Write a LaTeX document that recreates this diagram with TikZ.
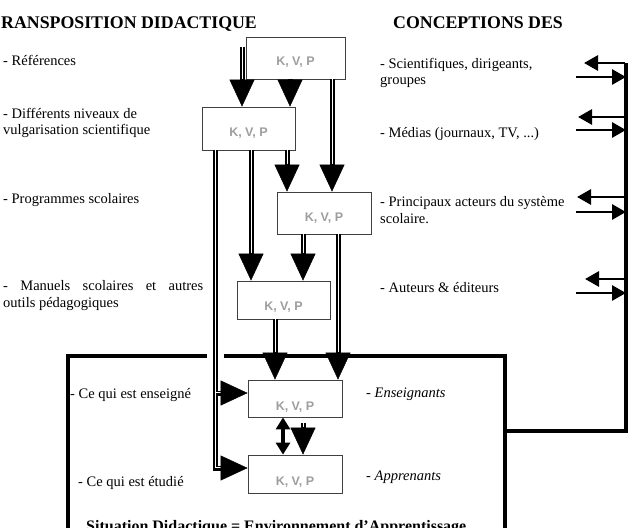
\documentclass[tikz,border=0pt]{standalone}
\usepackage{fontspec}
\setmainfont{Liberation Serif}
\newfontfamily\kvpfam{Liberation Sans}
\usetikzlibrary{arrows.meta,calc}
\newcommand\bigarrow[2]{%
  \draw[shaftblack] (#1) -- ($(#2)!22pt!(#1)$);
  \draw[shaftslit, transform canvas={xshift=0.9pt}] (#1) -- ($(#2)!22pt!(#1)$);
  \draw[bighead] ($(#2)!28pt!(#1)$) -- (#2);}
\begin{document}
\begin{tikzpicture}[x=1pt,y=-1pt,
  kvp/.style={draw=black!75, line width=0.8pt, fill=white, inner sep=0pt},
  kvplab/.style={font=\kvpfam\bfseries\fontsize{12.5}{14}\selectfont, text=black!38, inner sep=0pt},
  shaftblack/.style={draw=black, line width=5pt},
  shaftslit/.style={draw=white, line width=1.1pt},
  bighead/.style={draw=black, line width=0.4pt, -{Triangle[width=25pt,length=27pt]}},
  sarrow/.style={line width=2.8pt, -{Triangle[width=15pt,length=14pt]}},
  frameline/.style={line width=4pt, line join=miter},
  txt/.style={anchor=base west, inner sep=0pt, font=\fontsize{14.5}{17}\selectfont},
  ttl/.style={anchor=base west, inner sep=0pt, font=\bfseries\fontsize{17.8}{20}\selectfont}]
\useasboundingbox (0,0) rectangle (639,527);

% x positions of vertical connectors
\coordinate (c215) at (215,0);
\coordinate (c242) at (242,0);
\coordinate (c251) at (251,0);
\coordinate (c275) at (275,0);
\coordinate (c283) at (283,0);
\coordinate (c287) at (287,0);
\coordinate (c290) at (290,0);
\coordinate (c303) at (303,0);
\coordinate (c332) at (332,0);
\coordinate (c338) at (338,0);
\coordinate (y393) at (0,393);
\coordinate (y468) at (0,468);

% frame
\coordinate (FBL) at (68,545);
\coordinate (FTL) at (68,356);
\coordinate (FTR) at (505,356);
\coordinate (FBR) at (505,545);
\draw[frameline] (FBL) -- (FTL) -- (FTR) -- (FBR);
\coordinate (J) at (505,431);
\coordinate (RT) at (626,63);
\draw[frameline] (J) -| (RT);

% boxes
\node[kvp, minimum width=99pt, minimum height=42pt, label={[kvplab, yshift=-4pt]center:K, V, P}] (B1) at (295.5,58) {};
\node[kvp, minimum width=93pt, minimum height=43pt, label={[kvplab, yshift=-4.5pt]center:K, V, P}] (B2) at (248.5,128.5) {};
\node[kvp, minimum width=94pt, minimum height=42pt, label={[kvplab, yshift=-5pt]center:K, V, P}] (B3) at (324,213) {};
\node[kvp, minimum width=93pt, minimum height=38pt, label={[kvplab, yshift=-7pt]center:K, V, P}] (B4) at (283.5,300) {};
\node[kvp, minimum width=94pt, minimum height=37pt, label={[kvplab, yshift=-9pt]center:K, V, P}] (B5) at (295,398.5) {};
\node[kvp, minimum width=94pt, minimum height=38pt, label={[kvplab, yshift=-8pt]center:K, V, P}] (B6) at (295,474) {};

% arrows
\coordinate (A1s) at (242,47);
\bigarrow{A1s}{B2.north -| c242}
\bigarrow{B1.south -| c290}{B2.north -| c290}
\bigarrow{B1.south -| c332}{B3.north -| c332}
\bigarrow{B2.south -| c287}{B3.north -| c287}
\bigarrow{B2.south -| c251}{B4.north -| c251}
\bigarrow{B3.south -| c303}{B4.north -| c303}
\bigarrow{B3.south -| c338}{B5.north -| c338}
\bigarrow{B4.south -| c275}{B5.north -| c275}
\coordinate (A11s) at (303,423);
\bigarrow{A11s}{B6.north -| c303}

% long left connector
\coordinate (H1) at (215,338);
\coordinate (H2) at (215,374);
\draw[white, line width=17pt] (H1) -- (H2);
\coordinate (K1) at (215,393);
\coordinate (K2) at (215,468);
\draw[shaftblack, line join=miter] (B2.south -| c215) -- (K2) -- ($(B6.west |- y468)+(-22pt,0)$);
\draw[shaftblack] (K1) -- ($(B5.west |- y393)+(-22pt,0)$);
\draw[shaftslit, transform canvas={xshift=0.9pt,yshift=0.9pt}] (B2.south -| c215) -- (K2) -- ($(B6.west |- y468)+(-22pt,0)$);
\draw[shaftslit, transform canvas={xshift=0.9pt,yshift=0.9pt}] (K1) -- ($(B5.west |- y393)+(-22pt,0)$);
\draw[bighead] ($(B5.west |- y393)+(-28pt,0)$) -- (B5.west |- y393);
\draw[bighead] ($(B6.west |- y468)+(-28pt,0)$) -- (B6.west |- y468);

% double-headed arrow
\draw[line width=4.5pt, {Triangle[width=14pt,length=12pt]}-{Triangle[width=14pt,length=12pt]}] (B5.south -| c283) -- (B6.north -| c283);

% right side arrows
\coordinate (P1a) at (625,63);  \coordinate (P1b) at (584,63);
\coordinate (Q1a) at (576,77);  \coordinate (Q1b) at (626,77);
\coordinate (P2a) at (625,117); \coordinate (P2b) at (578,117);
\coordinate (Q2a) at (576,130); \coordinate (Q2b) at (626,130);
\coordinate (P3a) at (625,197); \coordinate (P3b) at (577,197);
\coordinate (Q3a) at (576,212); \coordinate (Q3b) at (626,212);
\coordinate (P4a) at (625,279); \coordinate (P4b) at (585,279);
\coordinate (Q4a) at (576,293); \coordinate (Q4b) at (626,293);
\draw[sarrow] (P1a) -- (P1b);
\draw[sarrow] (Q1a) -- (Q1b);
\draw[sarrow] (P2a) -- (P2b);
\draw[sarrow] (Q2a) -- (Q2b);
\draw[sarrow] (P3a) -- (P3b);
\draw[sarrow] (Q3a) -- (Q3b);
\draw[sarrow] (P4a) -- (P4b);
\draw[sarrow] (Q4a) -- (Q4b);

% titles
\node[ttl] (T1) at (1,29) {RANSPOSITION DIDACTIQUE};
\node[ttl] (T2) at (393,29) {CONCEPTIONS DES};

% left texts
\node[txt] (L1) at (3,66) {- Références};
\node[txt] (L2a) at (3,118) {- Différents niveaux de};
\node[txt] (L2b) at (3,134) {vulgarisation scientifique};
\node[txt] (L3) at (3,203) {- Programmes scolaires};
\node[txt] (L4a) at (3,290) {\makebox[200pt][s]{- Manuels scolaires et autres}};
\node[txt] (L4b) at (3,307) {outils pédagogiques};
\node[txt] (L5) at (70,398) {- Ce qui est enseigné};
\node[txt] (L6) at (78,486) {- Ce qui est étudié};
\node[txt, font=\itshape\fontsize{14.5}{17}\selectfont] (L8) at (366,397) {- Enseignants};
\node[txt, font=\itshape\fontsize{14.5}{17}\selectfont] (L9) at (366,480) {- Apprenants};
\node[txt, font=\bfseries\fontsize{16}{18}\selectfont] (L7) at (86,531) {Situation Didactique = Environnement d’Apprentissage};

% right texts
\node[txt] (R1a) at (380,68) {- Scientifiques, dirigeants,};
\node[txt] (R1b) at (380,84) {groupes};
\node[txt] (R2) at (380,137) {- Médias (journaux, TV, ...)};
\node[txt] (R3a) at (380,206) {- Principaux acteurs du système};
\node[txt] (R3b) at (380,223) {scolaire.};
\node[txt] (R4) at (380,292) {- Auteurs \& éditeurs};
\end{tikzpicture}
\end{document}
